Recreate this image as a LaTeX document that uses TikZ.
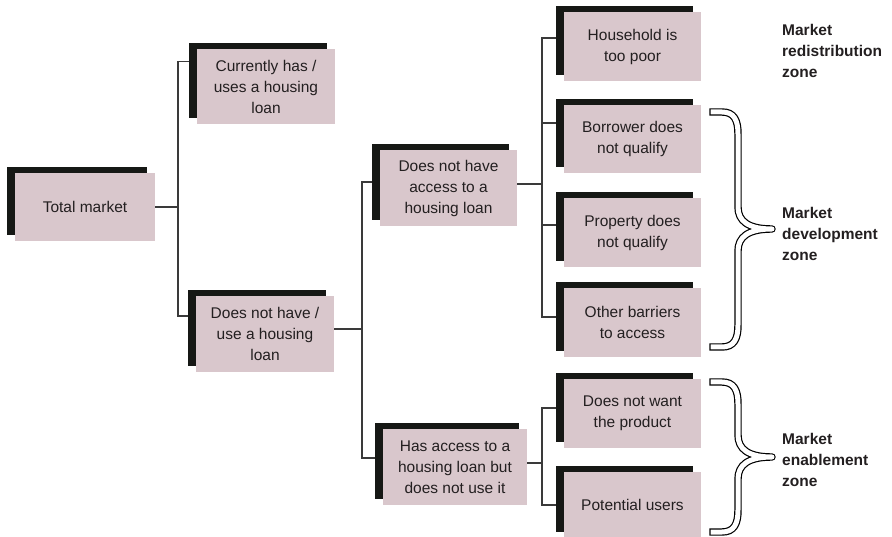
\documentclass[tikz,border=0pt]{standalone}
\usepackage{fontspec}
\setmainfont{Liberation Sans}
\usetikzlibrary{shadows}
\definecolor{boxpink}{HTML}{D9C7CC}
\definecolor{shade}{HTML}{161815}
\definecolor{ink}{HTML}{231F20}
\definecolor{wire}{HTML}{3A3A3A}
\tikzset{
  box/.style={fill=boxpink, text=ink, align=center, inner sep=0pt,
    minimum width=137pt, minimum height=69pt,
    general shadow={fill=shade, shadow xshift=-8pt, shadow yshift=6pt}},
  link/.style={wire, line width=1.1pt},
  zone/.style={anchor=north west, align=left, inner sep=0pt, text=ink,
    font=\bfseries\fontsize{15.5}{21}\selectfont},
  curly/.style={white, line width=5pt, line cap=rect, line join=round,
    preaction={draw=black, line width=7.4pt, line cap=rect, line join=round}}
}
\begin{document}
\begin{tikzpicture}[x=1pt,y=-1pt,font=\fontsize{15.5}{21}\selectfont]
\useasboundingbox (0,0) rectangle (892,537);
% boxes
\node[box,minimum width=140pt,minimum height=68pt] (tot) at (85,207) {Total market};
\node[box,minimum width=138pt,minimum height=75pt] (cur) at (266,86.5) {Currently has /\\uses a housing\\loan};
\node[box,minimum width=138pt,minimum height=76pt] (notuse) at (265,334) {Does not have /\\use a housing\\loan};
\node[box,minimum height=76pt] (noacc) at (448.5,188) {Does not have\\access to a\\housing loan};
\node[box,minimum width=144pt,minimum height=76pt] (hasacc) at (455,467) {Has access to a\\housing loan but\\does not use it};
\node[box] (poor) at (632.5,46.5) {Household is\\too poor};
\node[box,minimum height=68pt] (borr) at (632.5,139) {Borrower does\\not qualify};
\node[box] (prop) at (632.5,232.5) {Property does\\not qualify};
\node[box] (other) at (632.5,322.5) {Other barriers\\to access};
\node[box] (nowant) at (632.5,413.5) {Does not want\\the product};
\node[box,minimum height=66pt] (pot) at (632.5,505) {Potential users};

% tree lines
\coordinate (j1) at (178,207);
\coordinate (j2) at (362,329);
\coordinate (j3) at (542,184);
\coordinate (j4) at (542,463);
\draw[link] (tot.east) -- (j1);
\draw[link] (j1) |- ([xshift=-8pt,yshift=25pt]cur.west);
\draw[link] (j1) |- ([xshift=-8pt,yshift=18pt]notuse.west);
\draw[link] ([yshift=5pt]notuse.east) -- (j2);
\draw[link] (j2) |- ([xshift=-8pt,yshift=6pt]noacc.west);
\draw[link] (j2) |- ([xshift=-8pt,yshift=9pt]hasacc.west);
\draw[link] ([yshift=4pt]noacc.east) -- (j3);
\foreach \n/\d in {poor/8.5,borr/16,prop/7.5,other/5.5}
	\draw[link] (j3) |- ([xshift=-8pt,yshift=\d pt]\n.west);
\draw[link] ([yshift=4pt]hasacc.east) -- (j4);
\foreach \n/\d in {nowant/5.5,pot/0}
	\draw[link] (j4) |- ([xshift=-8pt,yshift=\d pt]\n.west);

% braces
\draw[curly] (713,112) -- (722,112) .. controls (734,112) and (738,120) .. (738,134) -- (738,207)
	.. controls (738,221) and (748,229) .. (772,229) .. controls (748,229) and (738,237) .. (738,251)
	-- (738,325) .. controls (738,339) and (734,347) .. (722,347) -- (713,347);
\draw[curly] (713,382) -- (722,382) .. controls (734,382) and (738,390) .. (738,404) -- (738,435)
	.. controls (738,449) and (748,457) .. (772,457) .. controls (748,457) and (738,465) .. (738,479)
	-- (738,510) .. controls (738,524) and (734,532) .. (722,532) -- (713,532);

% zone labels
\node[zone] (redis) at (782,24) {Market\\redistribution\\zone};
\node[zone] (devel) at (782,207) {Market\\development\\zone};
\node[zone] (enab) at (782,433) {Market\\enablement\\zone};
\end{tikzpicture}
\end{document}
